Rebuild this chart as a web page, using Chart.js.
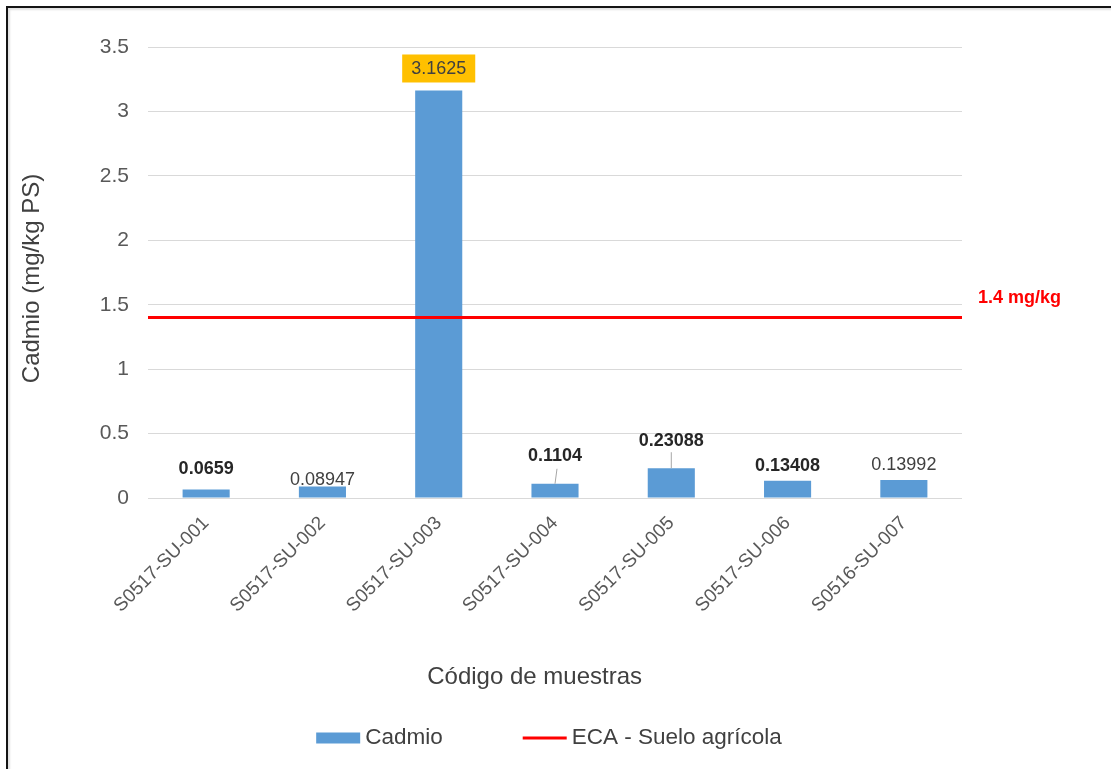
<!DOCTYPE html>
<html>
<head>
<meta charset="utf-8">
<script src="https://cdn.jsdelivr.net/npm/chart.js@4/dist/chart.umd.min.js"></script>
<style>
  html, body { margin: 0; padding: 0; background: #fff; }
  #wrap { position: relative; width: 1111px; height: 769px; overflow: hidden; }
  #frame { position: absolute; left: 6px; top: 6px; width: 1200px; height: 900px;
           border-top: 2px solid #141414; border-left: 2px solid #141414;
           box-shadow: inset 2px 2px 2px rgba(0,0,0,0.12); pointer-events: none; }
  canvas { position: absolute; left: 0; top: 0; }
</style>
</head>
<body>
<div id="wrap">
  <canvas id="chart" width="1111" height="769"></canvas>
  <div id="frame"></div>
</div>
<script>
// Sample codes and cadmium concentration (mg/kg dry weight)
const sampleCodes = ['S0517-SU-001', 'S0517-SU-002', 'S0517-SU-003', 'S0517-SU-004',
                     'S0517-SU-005', 'S0517-SU-006', 'S0516-SU-007'];
const cadmiumValues = [0.0659, 0.08947, 3.1625, 0.1104, 0.23088, 0.13408, 0.13992];
// Agricultural soil quality standard (ECA)
const ecaLimit = 1.4;
const seriesNames = ['Cadmio', 'ECA - Suelo agrícola'];
const axisTitles = { x: 'Código de muestras', y: 'Cadmio (mg/kg PS)' };

// Value label styling per bar: distance above the bar top, weight, highlight, leader line
const labelStyles = [
  { dy: 21, bold: true },
  { dy: 7,  bold: false },
  { dy: 22, bold: false, box: '#FFC000' },
  { dy: 29, bold: true, leader: { from: 14, dx: 2 } },
  { dy: 28, bold: true, leader: { from: 12, dx: 0 } },
  { dy: 16, bold: true },
  { dy: 16, bold: false }
];

const FONT = "'Liberation Sans', Arial, sans-serif";

const valueLabels = {
  id: 'valueLabels',
  afterDatasetsDraw(chart) {
    const ctx = chart.ctx;
    const meta = chart.getDatasetMeta(0);
    ctx.save();
    meta.data.forEach((bar, i) => {
      const st = labelStyles[i];
      const text = String(cadmiumValues[i]);
      const cx = bar.x;
      const cy = bar.y - st.dy;
      ctx.font = (st.bold ? 'bold ' : '') + '18px ' + FONT;
      ctx.textAlign = 'center';
      ctx.textBaseline = 'middle';
      if (st.leader) {
        ctx.strokeStyle = '#a6a6a6';
        ctx.lineWidth = 1;
        ctx.beginPath();
        ctx.moveTo(cx + st.leader.dx, cy + st.leader.from);
        ctx.lineTo(cx, bar.y);
        ctx.stroke();
      }
      if (st.box) {
        const w = ctx.measureText(text).width + 18;
        ctx.fillStyle = st.box;
        ctx.fillRect(cx - w / 2, cy - 14, w, 28);
      }
      ctx.fillStyle = st.bold ? '#262626' : '#404040';
      ctx.fillText(text, cx, cy + 1);
    });
    // Limit annotation to the right of the plot
    const y = chart.scales.y.getPixelForValue(ecaLimit);
    ctx.font = 'bold 18px ' + FONT;
    ctx.fillStyle = '#FF0000';
    ctx.textAlign = 'left';
    ctx.textBaseline = 'middle';
    ctx.fillText(ecaLimit + ' mg/kg', chart.chartArea.right + 16, y - 20);
    ctx.restore();
  }
};

// Axis titles and legend below the x axis
const titlesAndLegend = {
  id: 'titlesAndLegend',
  afterDraw(chart) {
    const ctx = chart.ctx;
    const ds = chart.data.datasets;
    const area = chart.chartArea;
    ctx.save();
    ctx.fillStyle = '#404040';
    ctx.textBaseline = 'middle';
    ctx.textAlign = 'center';
    ctx.font = '24px ' + FONT;
    ctx.fillText(axisTitles.x, area.left + (area.right - area.left) * 0.475, 677);
    ctx.save();
    ctx.translate(32, (area.top + area.bottom) / 2 + 6);
    ctx.rotate(-Math.PI / 2);
    ctx.fillText(axisTitles.y, 0, 0);
    ctx.restore();

    const y = 738;
    ctx.font = '22.5px ' + FONT;
    ctx.textAlign = 'left';
    const sw = 44, gap = 5, itemGap = 80;
    const w0 = ctx.measureText(ds[0].label).width;
    const w1 = ctx.measureText(ds[1].label).width;
    const total = sw + gap + w0 + itemGap + sw + gap + w1;
    let x = (area.left + area.right) / 2 - 6 - total / 2;
    ctx.fillStyle = ds[0].backgroundColor;
    ctx.fillRect(x, y - 5.5, sw, 11);
    x += sw + gap;
    ctx.fillStyle = '#404040';
    ctx.fillText(ds[0].label, x, y);
    x += w0 + itemGap;
    ctx.strokeStyle = ds[1].borderColor;
    ctx.lineWidth = 3;
    ctx.beginPath();
    ctx.moveTo(x, y);
    ctx.lineTo(x + sw, y);
    ctx.stroke();
    x += sw + gap;
    ctx.fillText(ds[1].label, x, y);
    ctx.restore();
  }
};

new Chart(document.getElementById('chart'), {
  type: 'bar',
  data: {
    labels: sampleCodes,
    datasets: [
      {
        type: 'bar',
        label: seriesNames[0],
        data: cadmiumValues,
        backgroundColor: '#5B9BD5',
        barPercentage: 0.405,
        categoryPercentage: 1,
        grouped: false,
        order: 1
      },
      {
        type: 'line',
        label: seriesNames[1],
        xAxisID: 'xLimit',
        data: [{ x: 0, y: ecaLimit }, { x: 1, y: ecaLimit }],
        borderColor: '#FF0000',
        borderWidth: 3,
        pointRadius: 0,
        fill: false,
        order: 0
      }
    ]
  },
  options: {
    responsive: false,
    animation: false,
    layout: { padding: { left: 0, top: 47, right: 149, bottom: 0 } },
    plugins: { legend: { display: false }, tooltip: { enabled: false } },
    scales: {
      x: {
        type: 'category',
        grid: { display: false },
        border: { display: false },
        ticks: {
          color: '#595959',
          font: { family: FONT, size: 19 },
          maxRotation: 45, minRotation: 45,
          padding: 6
        },
        afterFit(scale) { scale.height = 271; }
      },
      xLimit: {
        type: 'linear', position: 'bottom', min: 0, max: 1,
        offset: false, grid: { offset: false }, display: false
      },
      y: {
        min: 0, max: 3.5,
        grid: { color: '#d9d9d9', drawTicks: false },
        border: { display: false },
        ticks: {
          stepSize: 0.5,
          color: '#595959',
          font: { family: FONT, size: 21 },
          padding: 19,
          callback: (v) => String(v)
        },
        afterFit(scale) { scale.width = 148; }
      }
    }
  },
  plugins: [valueLabels, titlesAndLegend]
});
</script>
</body>
</html>
